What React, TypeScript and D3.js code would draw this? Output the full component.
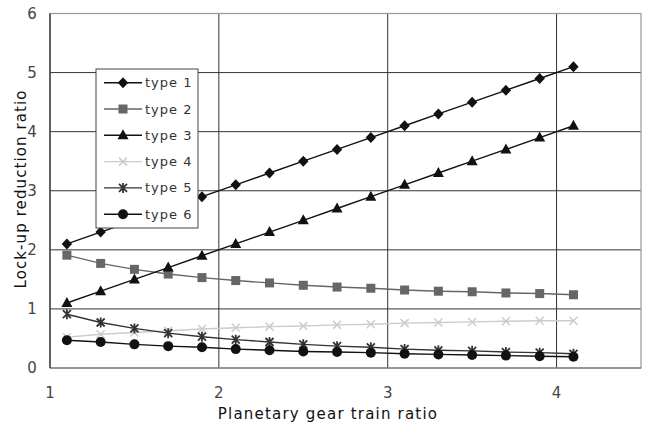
import React from "react";
import * as d3 from "d3";

const xValues = [1.1, 1.3, 1.5, 1.7, 1.9, 2.1, 2.3, 2.5, 2.7, 2.9, 3.1, 3.3, 3.5, 3.7, 3.9, 4.1];
const type1 = [2.1, 2.3, 2.5, 2.7, 2.9, 3.1, 3.3, 3.5, 3.7, 3.9, 4.1, 4.3, 4.5, 4.7, 4.9, 5.1];
const type2 = [1.91, 1.77, 1.67, 1.59, 1.53, 1.48, 1.44, 1.4, 1.37, 1.35, 1.32, 1.3, 1.29, 1.27, 1.26, 1.24];
const type3 = [1.1, 1.3, 1.5, 1.7, 1.9, 2.1, 2.3, 2.5, 2.7, 2.9, 3.1, 3.3, 3.5, 3.7, 3.9, 4.1];
const type4 = [0.52, 0.57, 0.6, 0.63, 0.66, 0.68, 0.7, 0.71, 0.73, 0.74, 0.76, 0.77, 0.78, 0.79, 0.8, 0.8];
const type5 = [0.91, 0.77, 0.67, 0.59, 0.53, 0.48, 0.44, 0.4, 0.37, 0.35, 0.32, 0.3, 0.29, 0.27, 0.26, 0.24];
const type6 = [0.47, 0.44, 0.4, 0.37, 0.35, 0.32, 0.3, 0.28, 0.27, 0.26, 0.24, 0.23, 0.22, 0.21, 0.2, 0.19];

const xTicks = [1, 2, 3, 4];
const yTicks = [0, 1, 2, 3, 4, 5, 6];
const seriesNames = ["type 1", "type 2", "type 3", "type 4", "type 5", "type 6"];

type Series = { name: string; values: number[]; color: string; marker: string };

const series: Series[] = [
  { name: seriesNames[0], values: type1, color: "#111", marker: "diamond" },
  { name: seriesNames[1], values: type2, color: "#666", marker: "square" },
  { name: seriesNames[2], values: type3, color: "#111", marker: "triangle" },
  { name: seriesNames[3], values: type4, color: "#ccc", marker: "cross" },
  { name: seriesNames[4], values: type5, color: "#333", marker: "star" },
  { name: seriesNames[5], values: type6, color: "#111", marker: "circle" },
];

const W = 645, H = 428;
const L = 50, R = 641, T = 13.5, B = 368;

const FONT = "'DejaVu Sans', 'Liberation Sans', sans-serif";

function Marker({ type, x, y, color }: { type: string; x: number; y: number; color: string }) {
  switch (type) {
    case "diamond":
      return <path d={`M${x},${y - 5.5}L${x + 5.2},${y}L${x},${y + 5.5}L${x - 5.2},${y}Z`} fill={color} />;
    case "square":
      return <rect x={x - 4.5} y={y - 4.5} width={9} height={9} fill={color} />;
    case "triangle":
      return <path d={`M${x},${y - 6}L${x + 5.5},${y + 4}L${x - 5.5},${y + 4}Z`} fill={color} />;
    case "cross":
      return (
        <path d={`M${x - 4},${y - 4}L${x + 4},${y + 4}M${x - 4},${y + 4}L${x + 4},${y - 4}`} stroke={color} strokeWidth={1.5} />
      );
    case "star":
      return (
        <path
          d={`M${x - 4},${y - 4}L${x + 4},${y + 4}M${x - 4},${y + 4}L${x + 4},${y - 4}M${x},${y - 5}L${x},${y + 5}`}
          stroke={color}
          strokeWidth={1.8}
        />
      );
    case "circle":
      return <circle cx={x} cy={y} r={5} fill={color} />;
  }
  return null;
}

export default function App() {
  const xs = d3.scaleLinear().domain([1, 4.5]).range([L, R]);
  const ys = d3.scaleLinear().domain([0, 6]).range([B, T]);

  const legendX = 96, legendY = 69, legendW = 102, legendH = 159;
  const rowH = 26.3;

  return (
    <svg width={W} height={H} style={{ position: "absolute", left: 0, top: 0, background: "#fff" }} fontFamily={FONT}>
      <rect x={0} y={0} width={W} height={H} fill="#fff" />
      {/* grid */}
      {yTicks.filter((t) => t > 0 && t < 6).map((t) => (
        <line key={"gy" + t} x1={L} x2={R} y1={ys(t)} y2={ys(t)} stroke="#333" strokeWidth={1} />
      ))}
      {xTicks.filter((t) => t > 1).map((t) => (
        <line key={"gx" + t} x1={xs(t)} x2={xs(t)} y1={T} y2={B} stroke="#333" strokeWidth={1} />
      ))}
      <rect x={L} y={T} width={R - L} height={B - T} fill="none" stroke="#999" strokeWidth={1.2} />
      <line x1={L} x2={L} y1={T} y2={B} stroke="#222" strokeWidth={1.2} />
      <line x1={L} x2={R} y1={B} y2={B} stroke="#666" strokeWidth={1.2} />

      {/* tick labels */}
      {yTicks.map((t) => (
        <text key={"yl" + t} x={32} y={ys(t)} dy="0.35em" textAnchor="middle" fontSize={15} fill="#444">
          {t}
        </text>
      ))}
      {xTicks.map((t) => (
        <text key={"xl" + t} x={xs(t)} y={393} dy="0.35em" textAnchor="middle" fontSize={15} fill="#444">
          {t}
        </text>
      ))}

      {/* axis titles */}
      <text x={328} y={419} textAnchor="middle" fontSize={15} letterSpacing={1.2} fill="#111">
        Planetary gear train ratio
      </text>
      <text
        transform={`translate(26,189) rotate(-90)`}
        textAnchor="middle"
        fontSize={15}
        letterSpacing={1.1}
        fill="#111"
      >
        Lock-up reduction ratio
      </text>

      {/* series */}
      {series.map((s) => {
        const line = d3
          .line<number>()
          .x((_, i) => xs(xValues[i]))
          .y((v) => ys(v));
        return (
          <g key={s.name}>
            <path d={line(s.values) || ""} fill="none" stroke={s.color} strokeWidth={1.4} />
            {s.values.map((v, i) => (
              <Marker key={i} type={s.marker} x={xs(xValues[i])} y={ys(v)} color={s.color} />
            ))}
          </g>
        );
      })}

      {/* legend */}
      <rect x={legendX} y={legendY} width={legendW} height={legendH} fill="#fff" stroke="#444" strokeWidth={1} />
      {series.map((s, i) => {
        const cy = legendY + 13.7 + i * rowH;
        return (
          <g key={"lg" + s.name}>
            <line x1={104} x2={142} y1={cy} y2={cy} stroke={s.color} strokeWidth={1.4} />
            <Marker type={s.marker} x={123} y={cy} color={s.color} />
            <text x={145} y={cy} dy="0.35em" fontSize={13} letterSpacing={1} fill="#333">
              {s.name}
            </text>
          </g>
        );
      })}
    </svg>
  );
}
